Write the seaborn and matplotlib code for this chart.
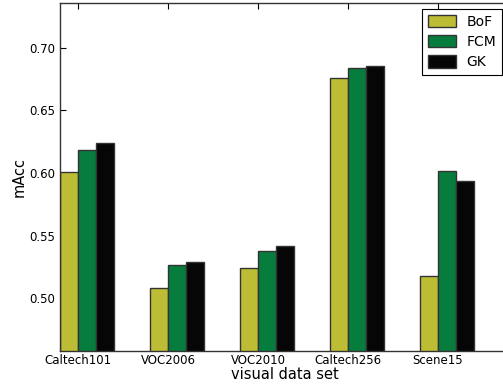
import numpy as np
import pandas as pd
import matplotlib
matplotlib.use("Agg")
import matplotlib.pyplot as plt
import seaborn as sns

datasets = ["Caltech101", "VOC2006", "VOC2010", "Caltech256", "Scene15"]
methods = ["BoF", "FCM", "GK"]
bof = [0.6005, 0.5077, 0.5240, 0.6760, 0.5176]
fcm = [0.6186, 0.5261, 0.5373, 0.6835, 0.6013]
gk = [0.6240, 0.5288, 0.5418, 0.6858, 0.5933]
colors = ["#bcbd35", "#077d3d", "#060606"]

rows = []
for m, vals in zip(methods, [bof, fcm, gk]):
    for d, v in zip(datasets, vals):
        rows.append({"dataset": d, "method": m, "mAcc": v})
data = pd.DataFrame(rows)

sns.set_style("white")
plt.rcParams["font.family"] = ["DejaVu Sans"]
plt.rcParams["xtick.direction"] = "in"
plt.rcParams["ytick.direction"] = "in"
plt.rcParams["text.color"] = "black"
plt.rcParams["axes.labelcolor"] = "black"
plt.rcParams["xtick.color"] = "black"
plt.rcParams["ytick.color"] = "black"

fig = plt.figure(figsize=(5.03, 3.85), dpi=100)
ax = fig.add_axes([60 / 503, 34 / 385, 450 / 503, 348 / 385])

sns.barplot(data=data, x="dataset", y="mAcc", hue="method", order=datasets,
            hue_order=methods, palette=colors, saturation=1, width=0.6,
            edgecolor="#333333", linewidth=1, ax=ax)

allv = bof + fcm + gk
ax.set_ylim(min(allv) - 0.05, max(allv) + 0.05)
ax.set_xlim(-0.3, 4.7)
ax.set_xticks(np.arange(len(datasets)) - 0.1)
ax.set_xticklabels(datasets)
ax.set_yticks([0.50, 0.55, 0.60, 0.65, 0.70])
ax.tick_params(axis="both", labelsize=8.5, length=4, width=0.8,
               top=True, right=True, bottom=True, left=True)
ax.tick_params(axis="x", pad=2)
ax.set_xlabel("visual data set", fontsize=10.5, labelpad=0)
ax.set_ylabel("mAcc", fontsize=10.5, labelpad=1.5)
for s in ax.spines.values():
    s.set_color("#333333")
    s.set_linewidth(1)

ax.legend(loc="upper right", bbox_to_anchor=(502 / 503, 1 - 9 / 385),
          bbox_transform=fig.transFigure, borderaxespad=0, fancybox=False,
          edgecolor="black", framealpha=1, fontsize=10, title=None,
          handleheight=1.0, labelspacing=0.45)
ax.get_legend().get_frame().set_linewidth(0.8)

fig.savefig("out.png", dpi=100)
